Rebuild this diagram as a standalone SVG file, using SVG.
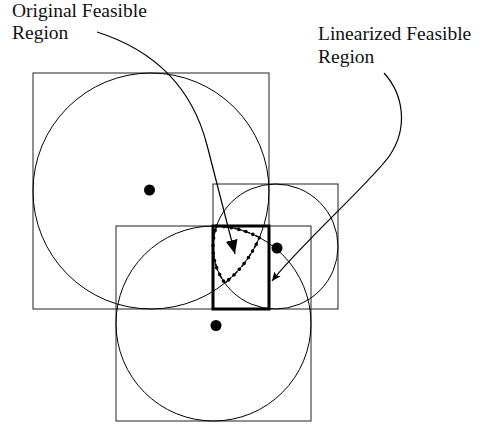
<svg xmlns="http://www.w3.org/2000/svg" width="485" height="425" viewBox="0 0 485 425">
<style>
.sq{fill:none;stroke:#222;stroke-width:1}
.ci{fill:none;stroke:#000;stroke-width:1}
.dot{fill:#000}
.bold{fill:none;stroke:#000;stroke-width:3}
.conn{fill:none;stroke:#000;stroke-width:1.2}
.lbl{font-family:"Liberation Serif","Times New Roman",serif;font-size:19.5px;fill:#111}
.dash{fill:none;stroke:#000;stroke-width:1.5;stroke-dasharray:2.5 2}
.dots{fill:none;stroke:#000;stroke-width:3.6;stroke-linecap:round;stroke-dasharray:0 7.5}
</style>
<defs>
<marker id="headBig" markerUnits="userSpaceOnUse" markerWidth="16" markerHeight="14" refX="14" refY="6" orient="auto">
<path d="M0,0 L14,6 L0,12 Z" fill="#000"/>
</marker>
<marker id="headSmall" markerUnits="userSpaceOnUse" markerWidth="12" markerHeight="10" refX="9" refY="4" orient="auto">
<path d="M0,0 L9,4 L0,8 L2,4 Z" fill="#000"/>
</marker>
</defs>
<g id="region-a">
<rect class="sq" x="33" y="73" width="236" height="236"/>
<circle class="ci" cx="151" cy="191" r="118"/>
<circle class="dot" cx="149.5" cy="190" r="5.5"/>
</g>
<g id="region-b">
<rect class="sq" x="213" y="184" width="125" height="125"/>
<circle class="ci" cx="275.5" cy="246.5" r="62.5"/>
<circle class="dot" cx="277" cy="248" r="5.5"/>
</g>
<g id="region-c">
<rect class="sq" x="116" y="226" width="195" height="195"/>
<circle class="ci" cx="213.5" cy="323.5" r="97.5"/>
<circle class="dot" cx="216" cy="325.5" r="5.5"/>
</g>
<g id="linearized-region">
<rect class="bold" x="213" y="226" width="56" height="83"/>
</g>
<g id="original-region">
<path class="dash" d="M216.5,226.1 A97.5,97.5 0 0,1 259.4,237.5 A118,118 0 0,1 224.8,283.1 A62.5,62.5 0 0,1 216.5,226.1 Z"/>
<path class="dots" d="M216.5,226.1 A97.5,97.5 0 0,1 259.4,237.5 A118,118 0 0,1 224.8,283.1 A62.5,62.5 0 0,1 216.5,226.1 Z"/>
</g>
<g id="label-original">
<text class="lbl" x="12" y="17">Original Feasible</text>
<text class="lbl" x="12" y="39">Region</text>
</g>
<g id="label-linearized">
<text class="lbl" x="318" y="40">Linearized Feasible</text>
<text class="lbl" x="318" y="63">Region</text>
</g>
<g id="connectors">
<path class="conn" d="M97,32 Q185,60 207,145 T235,254" marker-end="url(#headBig)"/>
<path class="conn" d="M384,73 C404,95 408,128 390,155 C375,178 300,245 272,281" marker-end="url(#headSmall)"/>
</g>
</svg>
